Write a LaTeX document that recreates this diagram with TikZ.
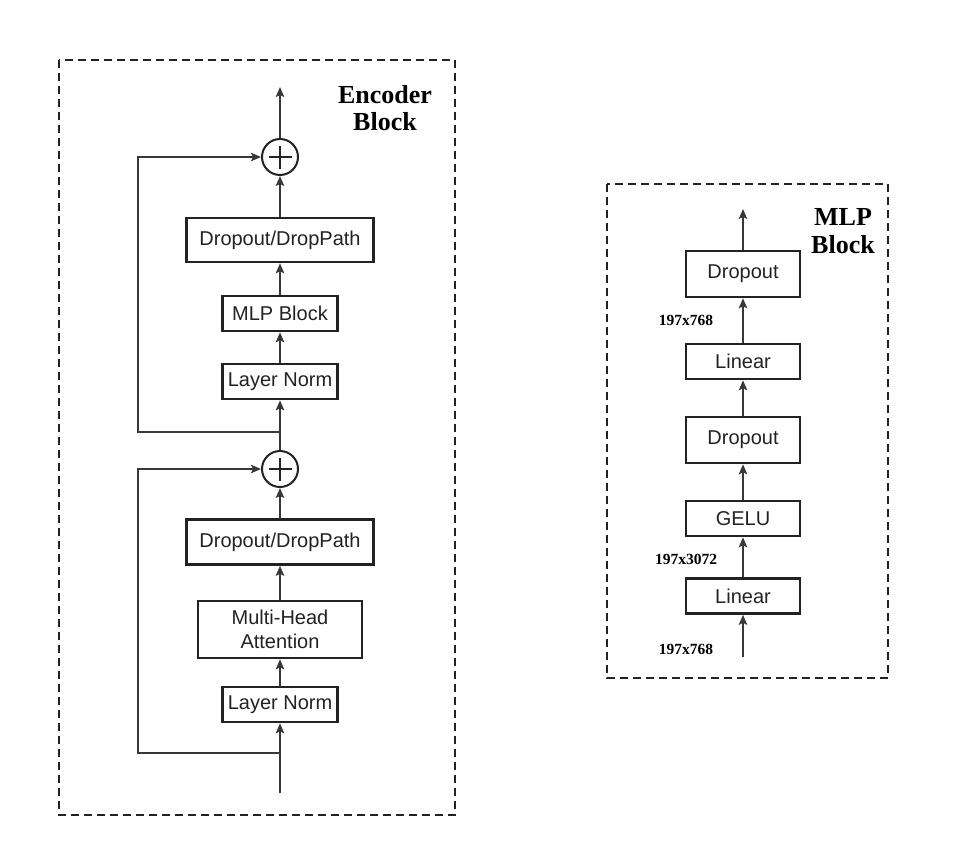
\documentclass[tikz,border=0pt]{standalone}
\usepackage{fontspec}
\setmainfont{Liberation Sans}
\newfontfamily\titlefont{Liberation Serif}
\usetikzlibrary{arrows.meta}
\definecolor{ink}{HTML}{222222}
\tikzset{
  blk/.style={draw=ink, line width=2.6pt, inner sep=0pt, text=ink, align=center,
    font=\fontsize{20}{24}\selectfont},
  addop/.style={draw=ink, circle, line width=2pt, minimum size=36pt, inner sep=0pt,
    path picture={\draw[line width=1.9pt,ink]
      ([xshift=-11.5pt]path picture bounding box.center) -- ([xshift=11.5pt]path picture bounding box.center)
      ([yshift=-11.5pt]path picture bounding box.center) -- ([yshift=11.5pt]path picture bounding box.center);}},
  conn/.style={draw=ink!90, line width=1.6pt},
  arr/.style={conn, -{Stealth[length=10pt,width=8.5pt,inset=2pt]}},
  frame/.style={draw=ink, line width=2.8pt, dash pattern=on 8pt off 5pt},
  ttl/.style={align=center, text=black, font=\titlefont\bfseries\fontsize{26}{27.5}\selectfont},
  dim/.style={text=black, font=\titlefont\bfseries\fontsize{15.5}{18}\selectfont}
}
\begin{document}
\begin{tikzpicture}[x=1pt,y=-1pt]
\useasboundingbox (0,0) rectangle (954,855);
% ---------- Encoder block ----------
\draw[frame] (59,60) rectangle (455,815);
\node[ttl] (enctitle) at (385,108) {Encoder\\Block};

\node[blk, minimum width=115pt, minimum height=35pt] (ln1) at (280,704.5) {Layer Norm};
\node[blk, minimum width=164pt, minimum height=57pt] (mha) at (280,629.5) {Multi-Head\\Attention};
\node[blk, minimum width=187pt, minimum height=45pt] (dp1) at (280,542) {Dropout/DropPath};
\node[addop] (add1) at (280,469) {};
\node[blk, minimum width=115pt, minimum height=35pt] (ln2) at (280,381.5) {Layer Norm};
\node[blk, minimum width=115pt, minimum height=35pt] (mlpb) at (280,313.5) {MLP Block};
\node[blk, minimum width=187pt, minimum height=44pt] (dp2) at (280,240) {Dropout/DropPath};
\node[addop] (add2) at (280,157) {};

\coordinate (encin) at (280,793);
\coordinate (br1) at (280,753);
\coordinate (br2) at (280,432);
\coordinate (encout) at (280,87);

\draw[arr] (encin) -- (ln1.south);
\draw[arr] (br1) -| (138,469) -- (add1.west);
\draw[arr] (ln1) -- (mha);
\draw[arr] (mha) -- (dp1);
\draw[arr] (dp1) -- (add1);
\draw[arr] (add1) -- (ln2);
\draw[arr] (br2) -| (138,157) -- (add2.west);
\draw[arr] (ln2) -- (mlpb);
\draw[arr] (mlpb) -- (dp2);
\draw[arr] (dp2) -- (add2);
\draw[arr] (add2) -- (encout);

% ---------- MLP block ----------
\draw[frame] (607,184) rectangle (888,678);
\node[ttl] (mlptitle) at (843,231) {MLP\\Block};

\node[blk, minimum width=114pt, minimum height=35pt] (lin1) at (743,596) {Linear};
\node[blk, minimum width=114pt, minimum height=35pt] (gelu) at (743,518.5) {GELU};
\node[blk, minimum width=114pt, minimum height=46pt] (drop1) at (743,440) {Dropout};
\node[blk, minimum width=114pt, minimum height=35pt] (lin2) at (743,361.5) {Linear};
\node[blk, minimum width=114pt, minimum height=46pt] (drop2) at (743,274) {Dropout};

\coordinate (mlpin) at (743,657);
\coordinate (mlpout) at (743,209);

\draw[arr] (mlpin) -- (lin1);
\draw[arr] (lin1) -- (gelu);
\draw[arr] (gelu) -- (drop1);
\draw[arr] (drop1) -- (lin2);
\draw[arr] (lin2) -- (drop2);
\draw[arr] (drop2) -- (mlpout);

\node[dim] (d1) at (686,649) {197x768};
\node[dim] (d2) at (686,559) {197x3072};
\node[dim] (d3) at (686,320) {197x768};
\end{tikzpicture}
\end{document}
